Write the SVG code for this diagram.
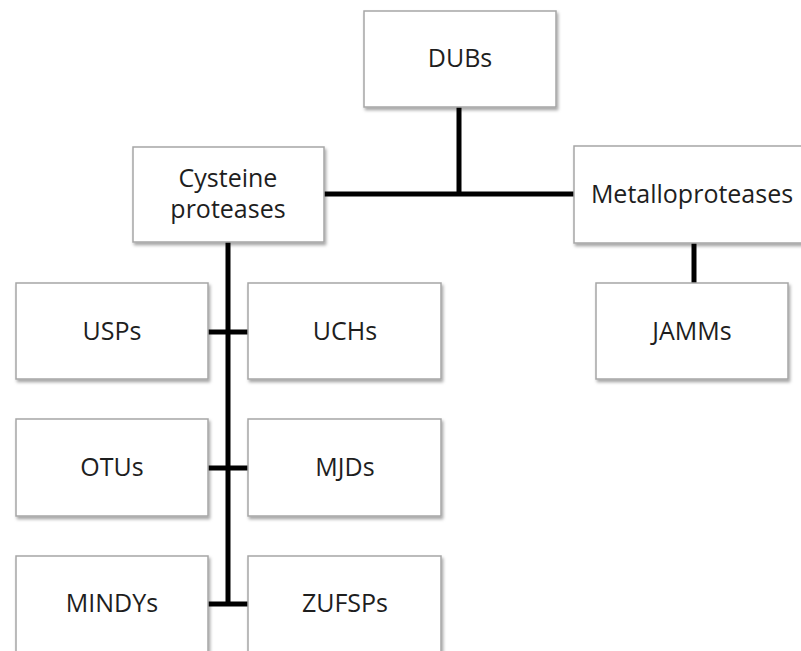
<svg xmlns="http://www.w3.org/2000/svg" width="801" height="651" viewBox="0 0 801 651">
<style>
.box{fill:#fff;stroke:#a6a6a6;stroke-width:1.5}
.lbl{font-family:"Open Sans","Liberation Sans",Arial,sans-serif;font-size:25px;fill:#1e1e1e;text-anchor:middle}
.con{stroke:#000;stroke-width:5;fill:none}
</style>
<defs>
<filter id="sh" x="-10%" y="-10%" width="125%" height="130%">
<feDropShadow dx="1.5" dy="2.5" stdDeviation="1.5" flood-color="#000" flood-opacity="0.35"/>
</filter>
</defs>
<rect width="801" height="651" fill="#fff"/>
<g id="connectors">
<path class="con" d="M459 107V194M324 194H574"/>
<path class="con" d="M694 243V283"/>
<path class="con" d="M228 242V604M208 332H248M208 468H248M208 604H248"/>
</g>
<g id="dubs"><rect class="box" filter="url(#sh)" x="364" y="11" width="192" height="96"/><text class="lbl" x="460" y="67">DUBs</text></g>
<g id="cysteine"><rect class="box" filter="url(#sh)" x="133" y="147" width="191" height="95"/><text class="lbl" x="228" y="187">Cysteine</text><text class="lbl" x="228" y="218">proteases</text></g>
<g id="metallo"><rect class="box" filter="url(#sh)" x="574" y="146" width="240" height="97"/><text class="lbl" x="692" y="203">Metalloproteases</text></g>
<g id="usps"><rect class="box" filter="url(#sh)" x="16" y="283" width="192" height="96"/><text class="lbl" x="112" y="340">USPs</text></g>
<g id="uchs"><rect class="box" filter="url(#sh)" x="248" y="283" width="193" height="96"/><text class="lbl" x="345" y="340">UCHs</text></g>
<g id="jamms"><rect class="box" filter="url(#sh)" x="596" y="283" width="192" height="96"/><text class="lbl" x="692" y="340">JAMMs</text></g>
<g id="otus"><rect class="box" filter="url(#sh)" x="16" y="419" width="192" height="97"/><text class="lbl" x="112" y="476">OTUs</text></g>
<g id="mjds"><rect class="box" filter="url(#sh)" x="248" y="419" width="193" height="97"/><text class="lbl" x="345" y="476">MJDs</text></g>
<g id="mindys"><rect class="box" filter="url(#sh)" x="16" y="556" width="192" height="100"/><text class="lbl" x="112" y="612">MINDYs</text></g>
<g id="zufsps"><rect class="box" filter="url(#sh)" x="248" y="556" width="193" height="100"/><text class="lbl" x="345" y="612">ZUFSPs</text></g>
</svg>
